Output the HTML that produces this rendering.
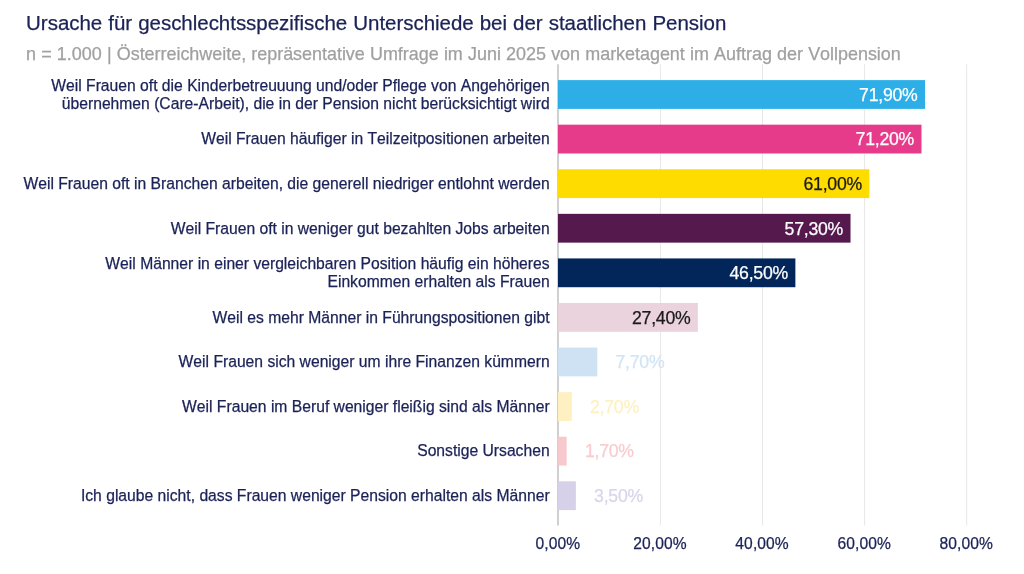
<!DOCTYPE html>
<html lang="de"><head><meta charset="utf-8"><title>Ursache für geschlechtsspezifische Unterschiede bei der staatlichen Pension</title>
<style>
html,body{margin:0;padding:0;background:#fff;}
body{font-kerning:none;-webkit-text-stroke:0.25px;width:1024px;height:574px;position:relative;overflow:hidden;font-family:"Liberation Sans",sans-serif;}
svg{position:absolute;left:0;top:0;}
.t{word-spacing:0.4px;letter-spacing:-0.03px;position:absolute;left:26.1px;top:10.5px;font-size:20.5px;line-height:24px;color:#1b2257;white-space:nowrap;}
.s{word-spacing:0.25px;letter-spacing:-0.022px;position:absolute;left:26px;top:42.8px;font-size:17.97px;line-height:22px;color:#a0a0a0;white-space:nowrap;}
.l{position:absolute;right:474.4px;width:560px;text-align:right;font-size:15.68px;line-height:18.6px;color:#1b2257;white-space:nowrap;}
.v{position:absolute;font-size:17.7px;letter-spacing:-0.25px;line-height:29px;height:29px;white-space:nowrap;}
.x{position:absolute;top:533.5px;letter-spacing:0.1px;width:100px;text-align:center;font-size:15.6px;line-height:19px;color:#1b2257;}
</style></head><body>
<div class="t">Ursache für geschlechtsspezifische Unterschiede bei der staatlichen Pension</div>
<div class="s">n = 1.000 | Österreichweite, repräsentative Umfrage im Juni 2025 von marketagent im Auftrag der Vollpension</div>
<svg width="1024" height="574" viewBox="0 0 1024 574">
<line x1="660.40" y1="64.3" x2="660.40" y2="525.6" stroke="#e7e7e7" stroke-width="1"/>
<line x1="762.50" y1="64.3" x2="762.50" y2="525.6" stroke="#e7e7e7" stroke-width="1"/>
<line x1="864.60" y1="64.3" x2="864.60" y2="525.6" stroke="#e7e7e7" stroke-width="1"/>
<line x1="966.70" y1="64.3" x2="966.70" y2="525.6" stroke="#e7e7e7" stroke-width="1"/>
<line x1="558.00" y1="64.3" x2="558.00" y2="525.6" stroke="#bcbcbc" stroke-width="1.4"/>
<rect x="558.00" y="80.10" width="367.05" height="28.8" fill="#2daee6"/>
<rect x="558.00" y="124.68" width="363.48" height="28.8" fill="#e63a8b"/>
<rect x="558.00" y="169.26" width="311.41" height="28.8" fill="#ffdc00"/>
<rect x="558.00" y="213.84" width="292.52" height="28.8" fill="#55194d"/>
<rect x="558.00" y="258.42" width="237.38" height="28.8" fill="#03265a"/>
<rect x="558.00" y="303.00" width="139.88" height="28.8" fill="#ead3dd"/>
<rect x="558.00" y="347.58" width="39.31" height="28.8" fill="#cfe2f4"/>
<rect x="558.00" y="392.16" width="13.78" height="28.8" fill="#fff0c2"/>
<rect x="558.00" y="436.74" width="8.68" height="28.8" fill="#f8c9cc"/>
<rect x="558.00" y="481.32" width="17.87" height="28.8" fill="#d6d0e8"/>
</svg>
<div class="l" style="top:76.5px">Weil Frauen oft die Kinderbetreuuung und/oder Pflege von Angehörigen<br>übernehmen (Care-Arbeit), die in der Pension nicht berücksichtigt wird</div>
<div class="v" style="top:80.8px;right:106.4px;color:#ffffff">71,90%</div>
<div class="l" style="top:130.4px">Weil Frauen häufiger in Teilzeitpositionen arbeiten</div>
<div class="v" style="top:125.4px;right:109.9px;color:#ffffff">71,20%</div>
<div class="l" style="top:175.0px">Weil Frauen oft in Branchen arbeiten, die generell niedriger entlohnt werden</div>
<div class="v" style="top:170.0px;right:162.0px;color:#1a1a1a">61,00%</div>
<div class="l" style="top:219.5px">Weil Frauen oft in weniger gut bezahlten Jobs arbeiten</div>
<div class="v" style="top:214.5px;right:180.9px;color:#ffffff">57,30%</div>
<div class="l" style="top:254.8px">Weil Männer in einer vergleichbaren Position häufig ein höheres<br>Einkommen erhalten als Frauen</div>
<div class="v" style="top:259.1px;right:236.0px;color:#ffffff">46,50%</div>
<div class="l" style="top:308.7px">Weil es mehr Männer in Führungspositionen gibt</div>
<div class="v" style="top:303.7px;right:333.5px;color:#1a1a1a">27,40%</div>
<div class="l" style="top:353.3px">Weil Frauen sich weniger um ihre Finanzen kümmern</div>
<div class="v" style="top:348.3px;left:615.5px;color:#d3e4f5">7,70%</div>
<div class="l" style="top:397.9px">Weil Frauen im Beruf weniger fleißig sind als Männer</div>
<div class="v" style="top:392.9px;left:590.0px;color:#fff0c2">2,70%</div>
<div class="l" style="top:442.4px">Sonstige Ursachen</div>
<div class="v" style="top:437.4px;left:584.9px;color:#f8cdd0">1,70%</div>
<div class="l" style="top:487.0px">Ich glaube nicht, dass Frauen weniger Pension erhalten als Männer</div>
<div class="v" style="top:482.0px;left:594.1px;color:#d9d5ea">3,50%</div>
<div class="x" style="left:507.9px">0,00%</div>
<div class="x" style="left:610.0px">20,00%</div>
<div class="x" style="left:712.1px">40,00%</div>
<div class="x" style="left:814.2px">60,00%</div>
<div class="x" style="left:916.3px">80,00%</div>
</body></html>
